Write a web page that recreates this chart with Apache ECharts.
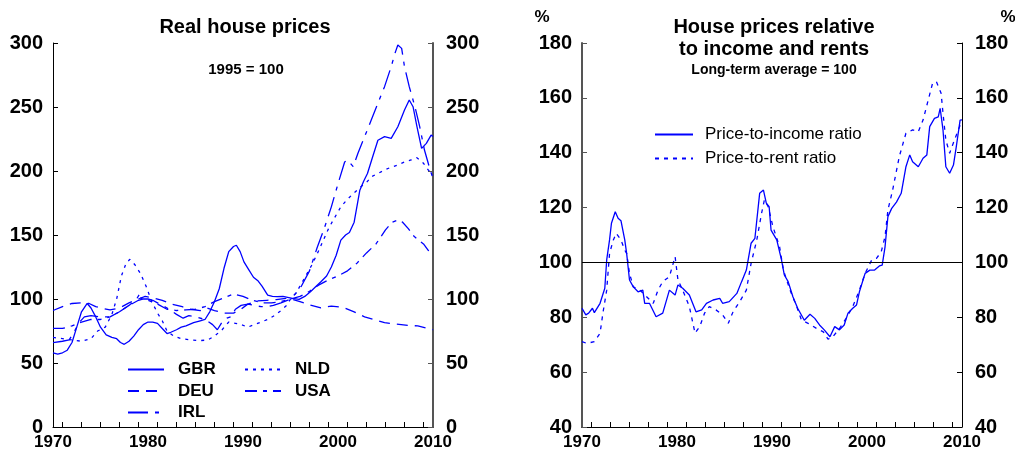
<!DOCTYPE html>
<html><head><meta charset="utf-8">
<script src="https://cdn.jsdelivr.net/npm/echarts@6/dist/echarts.min.js"></script>
<style>html,body{margin:0;padding:0;background:#fff}#c{width:1015px;height:455px}</style>
</head><body><div id="c"></div>
<script>
// ---- Left panel: real house prices, 1995 = 100 ----
const gbr = [[1970,58],[1970.5,57],[1971,58],[1971.5,60],[1972,66],[1972.5,78],[1973,90],[1973.6,96.5],[1974,93],[1974.5,86],[1975,78],[1975.6,72],[1976.2,70],[1976.7,69],[1977.1,66],[1977.5,64.6],[1978,67],[1978.5,71],[1979,76],[1979.5,80],[1980,82],[1980.5,82],[1981,81],[1981.5,77],[1982,73],[1982.4,74],[1983,76],[1983.5,78],[1984,79],[1984.8,81.5],[1985.5,83],[1986,84],[1986.5,90],[1987,98],[1987.5,108],[1988,124],[1988.5,137],[1989,141],[1989.3,142],[1989.7,137],[1990.1,129],[1990.6,123],[1991.1,117],[1991.6,114],[1992,110],[1992.6,103],[1993.1,102],[1993.6,101.8],[1994.2,102],[1994.7,101.3],[1995.2,100.5],[1995.9,99.7],[1996.5,102],[1997.1,105.7],[1997.7,110],[1998.2,113.5],[1998.8,118],[1999.3,125],[1999.8,134],[2000.3,146],[2000.8,150],[2001.2,152],[2001.7,160],[2002.3,185],[2002.7,192],[2003.1,198],[2003.6,210],[2004.2,224],[2004.9,226.8],[2005.6,225.5],[2006.3,234.6],[2007,247.7],[2007.5,255.5],[2007.9,250.2],[2008.3,235],[2008.8,217.7],[2009.3,221.6],[2009.8,228],[2010,227]];
const deu = [[1970,91],[1971,94],[1972,96.5],[1973,97],[1973.8,96.5],[1974.5,94],[1975.3,92.5],[1976,91.5],[1977,93],[1978,97],[1979,100],[1979.7,102],[1980.5,101],[1981.5,99],[1982.5,96],[1983.6,94],[1984.5,92],[1985.5,91],[1986.2,93],[1987,91],[1988,89],[1989,89],[1989.8,92],[1990.5,96],[1991.5,98.5],[1992.5,99],[1993.5,99.5],[1994.5,100.5],[1995,100],[1996,98],[1997.1,95.3],[1998.2,93],[1999.3,94.5],[2000.5,93.5],[2001.7,90],[2002.8,86],[2003.8,84],[2004.9,81.5],[2006,80.5],[2007.4,79.3],[2008.4,79],[2009.5,77],[2010,76]];
const irl = [[1970,66],[1971,67],[1971.7,68],[1972.2,74],[1972.8,82],[1973.3,86],[1974,87],[1975,86],[1976,86],[1977,90],[1978,95],[1978.8,100],[1979.2,105],[1979.3,100],[1980,100],[1980.5,99],[1981,97],[1982,93],[1983,88],[1983.7,85],[1984.3,87],[1985,86],[1986,84],[1986.8,80],[1987.3,76],[1987.8,82],[1988.3,85],[1988.7,86],[1989.2,92],[1989.8,95],[1990.5,96],[1991.2,95],[1991.9,94],[1992.6,94],[1993.2,95],[1994,97],[1995,100],[1996,108],[1997,122],[1997.8,140],[1998.5,154],[1999.3,172],[2000,190],[2000.7,207],[2001,208.6],[2001.6,203.4],[2002.1,213.8],[2002.8,226.8],[2003.5,239.8],[2004.2,252.9],[2004.9,265.9],[2005.6,281.5],[2006,292],[2006.3,298.4],[2006.7,295.8],[2007,281.5],[2007.5,265.9],[2008.1,250.2],[2008.6,234.6],[2009.1,216.4],[2009.7,200.8],[2010,194.3]];
const nld = [[1970,70],[1971,69],[1972,68],[1973,67],[1974,69],[1974.7,75],[1975.5,78],[1976.2,88],[1976.7,100],[1977.2,118],[1977.7,128],[1978.1,131],[1978.6,127],[1979.2,120],[1979.8,110],[1980.4,98],[1981,89],[1981.5,83],[1982,75],[1982.7,71],[1983.5,69],[1984.5,68],[1985.5,67.5],[1986.3,68],[1987,71],[1987.8,76],[1988.5,82],[1989.2,81],[1989.8,80],[1990.5,78],[1991.2,80],[1991.9,82],[1992.6,84],[1993.3,87],[1994,91],[1994.6,95],[1995,100],[1995.5,104],[1996,110],[1996.6,118],[1997.2,126],[1997.8,135],[1998.4,145],[1999,155],[1999.6,163],[2000.3,172],[2001,178],[2001.7,183],[2002.4,187.7],[2003,191],[2003.5,195.5],[2004.2,198],[2004.9,200.8],[2005.6,203],[2006.3,204.7],[2007,207],[2007.7,208.6],[2008.3,210.4],[2008.7,208],[2009,206],[2009.5,200.8],[2010,197]];
const usa = [[1970,77],[1971,77],[1972,79],[1973,82],[1974,84],[1975,84],[1976,86],[1977,90],[1978,95],[1979,99],[1979.5,100],[1980,99],[1981,96],[1982,92],[1983,91],[1984,91.5],[1985,92],[1986,94],[1987,98],[1988,101],[1989,104],[1990,102],[1991,99],[1992,97],[1993,97],[1994,98],[1995,100],[1996,102],[1997,106],[1998,111],[1999,115],[2000,118],[2001,122],[2002,128],[2003,136],[2004,143],[2005,154],[2005.7,160],[2006.3,161.7],[2006.8,160],[2007.4,155],[2008,149],[2008.5,146],[2009,143],[2009.5,138],[2010,136]];

// ---- Right panel: price-to-income and price-to-rent ratios ----
const priceToIncome = [[1970,83.3],[1970.4,80.9],[1970.7,81.5],[1971.1,83.3],[1971.3,81.7],[1971.9,85.1],[1972.4,90.6],[1972.6,100.9],[1972.9,108.2],[1973.1,114.3],[1973.5,118.5],[1973.8,116.1],[1974.1,115.2],[1974.5,108.2],[1974.7,103.3],[1975,93.6],[1975.4,91.1],[1975.9,89.3],[1976.4,89.9],[1976.6,85.1],[1977.1,85.1],[1977.8,80.2],[1978.5,81.5],[1979.2,89.9],[1979.8,88.1],[1980.1,91.8],[1980.6,90.6],[1981.3,88.1],[1982,82],[1982.6,82.7],[1983.1,85.1],[1983.8,86.3],[1984.5,86.9],[1984.8,85.1],[1985.5,85.7],[1986.3,88.7],[1986.8,93],[1987.3,97.2],[1987.8,107],[1988.2,108.8],[1988.7,125.2],[1989.1,126.4],[1989.4,121.6],[1989.7,120.3],[1989.9,111.8],[1990.5,108.2],[1991,100.9],[1991.3,95.4],[1991.7,93],[1992.2,87.5],[1992.7,83.3],[1993.4,78.9],[1994,81.1],[1994.5,79.6],[1995,77.2],[1995.5,75.4],[1996.1,72.9],[1996.6,76.6],[1997.1,75.4],[1997.6,77.2],[1998,81.5],[1998.5,83.3],[1998.9,84.5],[1999.2,89.3],[1999.8,96],[2000.3,97.2],[2000.8,97.2],[2001.3,98.7],[2001.6,99],[2001.9,105.7],[2002.2,116.7],[2002.6,119.7],[2003.1,122],[2003.6,125.2],[2004.1,134.9],[2004.5,139.2],[2004.8,136.7],[2005.4,134.9],[2005.9,138],[2006.3,139.2],[2006.6,149.5],[2007.1,152.5],[2007.5,153.1],[2007.7,156.2],[2008,148.3],[2008.3,134.9],[2008.7,132.5],[2009.1,135.5],[2009.4,142.2],[2009.8,151.9],[2010,152]];
const priceToRent = [[1970,71.1],[1970.5,70.5],[1971.3,71.1],[1971.9,74.2],[1972.2,81.5],[1972.6,89.9],[1972.9,103.3],[1973.3,108.2],[1973.6,110.6],[1974.1,108.2],[1974.5,104.5],[1974.7,103.3],[1975,96],[1975.4,91.1],[1976.1,89.9],[1976.8,87.5],[1977.5,85.1],[1978,89.9],[1978.5,93],[1979.2,94.8],[1979.8,102.1],[1980.1,93.6],[1980.6,89.9],[1981.3,83.9],[1981.9,74.2],[1982.4,76.6],[1982.9,81.5],[1983.4,83.9],[1984.1,82.7],[1984.8,80.9],[1985.4,77.8],[1985.9,82],[1986.6,85.7],[1987.3,89.9],[1987.8,99.7],[1988.4,108.2],[1988.9,117.9],[1989.2,122.8],[1989.6,120.3],[1990.1,113],[1990.8,105.7],[1991.2,97.2],[1991.9,89.9],[1992.6,83.9],[1993.1,79],[1993.8,77.8],[1994.7,75.9],[1995.4,74.7],[1995.9,72],[1996.4,72.9],[1997.1,75.9],[1997.8,79.6],[1998.5,83.9],[1999.2,89.9],[1999.8,96],[2000.5,100.9],[2001,101.5],[2001.5,103.9],[2001.9,109.4],[2002.2,119.1],[2002.7,126.4],[2003.4,138.6],[2004.1,147.1],[2004.8,148.3],[2005.4,147.7],[2005.9,151.9],[2006.4,158.6],[2006.9,165.3],[2007.3,165.9],[2007.8,161.7],[2008,154.4],[2008.3,144.6],[2008.7,139.8],[2009.2,144.6],[2009.8,150]];

// ---- Axis labels / ticks ----
const yearLabels = [1970, 1980, 1990, 2000, 2010];
const yearTicks = [1971,1973,1975,1977,1979,1981,1983,1985,1987,1989,1991,1993,1995,1997,1999,2001,2003,2005,2007,2009];
const leftRange = {min: 0, max: 300, interval: 50};
const rightRange = {min: 40, max: 180, interval: 20};
const benchmark = 100;

const FONT = '"Liberation Sans", Arial, Helvetica, sans-serif';
const BLUE = '#0000ff';

const chart = echarts.init(document.getElementById('c'));

function xAx(gi) {
  return {
    type: 'value', gridIndex: gi, min: 1970, max: 2010, interval: 10,
    axisLine: {show: true, onZero: false, lineStyle: {color: '#000', width: 1}},
    axisTick: {show: true, inside: true, length: 5, customValues: yearTicks, lineStyle: {color: '#000', width: 1}},
    axisLabel: {customValues: yearLabels, formatter: v => String(v), fontSize: 17, fontWeight: 'bold', color: '#000', fontFamily: FONT, margin: 7},
    splitLine: {show: false}
  };
}
function yAx(gi, pos, range, col, w, margin) {
  return {
    type: 'value', gridIndex: gi, position: pos, min: range.min, max: range.max, interval: range.interval,
    axisLine: {show: true, onZero: false, lineStyle: {color: col, width: w}},
    axisTick: {show: true, inside: true, length: 5, lineStyle: {color: col, width: 1}},
    axisLabel: {fontSize: 20, fontWeight: 'bold', color: '#000', fontFamily: FONT, margin: margin},
    splitLine: {show: false}
  };
}
function ser(name, data, dash, xi, yi, extra) {
  return Object.assign({
    name, type: 'line', data, xAxisIndex: xi, yAxisIndex: yi,
    symbol: 'none', showSymbol: false, silent: true, animation: false,
    lineStyle: {color: BLUE, width: 1.3, type: dash},
    itemStyle: {color: BLUE}
  }, extra || {});
}
const legText = (pad) => ({fontSize: 17, fontWeight: 'bold', color: '#000', fontFamily: FONT, padding: [0, 0, 0, pad]});
const noSym = {opacity: 0};

const option = {
  animation: false,
  grid: [
    {left: 53, top: 43, width: 380, height: 384},
    {left: 582, top: 43, width: 380, height: 384}
  ],
  xAxis: [xAx(0), xAx(1)],
  yAxis: [
    yAx(0, 'left', leftRange, '#000', 1, 10),
    yAx(0, 'right', leftRange, '#555', 2, 13),
    yAx(1, 'left', rightRange, '#555', 2, 10),
    yAx(1, 'right', rightRange, '#000', 1, 13)
  ],
  legend: [
    {data: ['GBR', 'DEU', 'IRL'], orient: 'vertical', left: 122, top: 356, itemWidth: 36, itemHeight: 14, itemGap: 4.5,
     itemStyle: noSym, textStyle: legText(9), selectedMode: false},
    {data: ['NLD', 'USA'], orient: 'vertical', left: 239, top: 356, itemWidth: 36, itemHeight: 14, itemGap: 4.5,
     itemStyle: noSym, textStyle: legText(9), selectedMode: false},
    {data: ['Price-to-income ratio', 'Price-to-rent ratio'], orient: 'vertical', left: 649, top: 121, itemWidth: 38, itemHeight: 14, itemGap: 7,
     itemStyle: noSym, textStyle: {fontSize: 17, color: '#000', fontFamily: FONT, padding: [0, 0, 0, 7]}, selectedMode: false}
  ],
  series: [
    ser('GBR', gbr, 'solid', 0, 0),
    ser('DEU', deu, [11, 7], 0, 0),
    ser('IRL', irl, [20, 7, 4, 7], 0, 0),
    ser('NLD', nld, [3, 5], 0, 0),
    ser('USA', usa, [12, 6, 4, 6], 0, 0),
    ser('Price-to-income ratio', priceToIncome, 'solid', 1, 2, {
      markLine: {silent: true, symbol: 'none', animation: false, label: {show: false},
        lineStyle: {color: '#000', width: 1.2, type: 'solid'}, data: [{yAxis: benchmark}]}
    }),
    ser('Price-to-rent ratio', priceToRent, [4, 5], 1, 2)
  ],
  graphic: [
    {type: 'text', x: 245, y: 27, style: {text: 'Real house prices', font: 'bold 20px ' + FONT, fill: '#000', align: 'center', verticalAlign: 'middle'}},
    {type: 'text', x: 246, y: 70, style: {text: '1995 = 100', font: 'bold 15px ' + FONT, fill: '#000', align: 'center', verticalAlign: 'middle'}},
    {type: 'text', x: 774, y: 27, style: {text: 'House prices relative', font: 'bold 20px ' + FONT, fill: '#000', align: 'center', verticalAlign: 'middle'}},
    {type: 'text', x: 774, y: 49, style: {text: 'to income and rents', font: 'bold 20px ' + FONT, fill: '#000', align: 'center', verticalAlign: 'middle'}},
    {type: 'text', x: 774, y: 70, style: {text: 'Long-term average = 100', font: 'bold 14px ' + FONT, fill: '#000', align: 'center', verticalAlign: 'middle'}},
    {type: 'text', x: 542, y: 17, style: {text: '%', font: 'bold 17px ' + FONT, fill: '#000', align: 'center', verticalAlign: 'middle'}},
    {type: 'text', x: 1008, y: 17, style: {text: '%', font: 'bold 17px ' + FONT, fill: '#000', align: 'center', verticalAlign: 'middle'}}
  ]
};
chart.setOption(option);
</script>
</body></html>
